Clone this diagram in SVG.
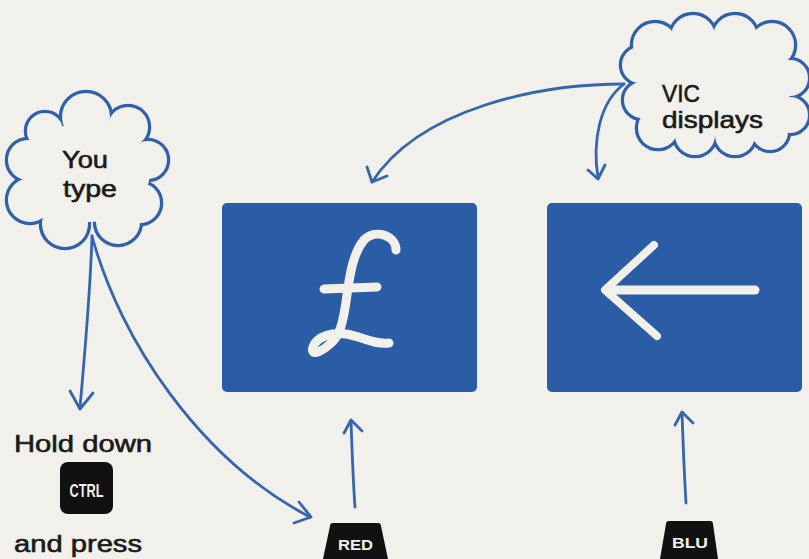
<svg xmlns="http://www.w3.org/2000/svg" width="809" height="559" viewBox="0 0 809 559">
<defs>
<style>
.bg{fill:#f2f0ea}
.cloudline{fill:none;stroke:#2f60a8;stroke-width:6.5}
.cloudfill{fill:#f2f0ea;stroke:none}
.conn{fill:none;stroke:#3465ad;stroke-width:2.8;stroke-linecap:round;stroke-linejoin:round}
.screen{fill:#2b5ca6}
.glyph{fill:none;stroke:#f2f0ea;stroke-linecap:round;stroke-linejoin:round}
.lbl{font-family:"Liberation Sans",Arial,sans-serif;font-size:24px;fill:#1a1a1a;stroke:#1a1a1a;stroke-width:0.6}
.key{fill:#111}
.keytxt{font-family:"Liberation Sans",Arial,sans-serif;font-weight:bold;fill:#f2f0ea}
</style>
</defs>
<rect class="bg" x="0" y="0" width="809" height="559"/>

<g id="you-type">
<g class="cloudline">
<circle cx="45" cy="131" r="18"/>
<circle cx="86" cy="117" r="24"/>
<circle cx="128" cy="127" r="20"/>
<circle cx="148" cy="160" r="19"/>
<circle cx="140" cy="203" r="20"/>
<circle cx="118" cy="222" r="22"/>
<circle cx="65" cy="224" r="23"/>
<circle cx="30" cy="200" r="22"/>
<circle cx="28" cy="160" r="20"/>
</g>
<g class="cloudfill">
<circle cx="45" cy="131" r="18"/>
<circle cx="86" cy="117" r="24"/>
<circle cx="128" cy="127" r="20"/>
<circle cx="148" cy="160" r="19"/>
<circle cx="140" cy="203" r="20"/>
<circle cx="118" cy="222" r="22"/>
<circle cx="65" cy="224" r="23"/>
<circle cx="30" cy="200" r="22"/>
<circle cx="28" cy="160" r="20"/>
<ellipse cx="88" cy="172" rx="62" ry="50"/>
</g>
<text class="lbl" x="62" y="168" textLength="46" lengthAdjust="spacingAndGlyphs">You</text>
<text class="lbl" x="63" y="197" textLength="54" lengthAdjust="spacingAndGlyphs">type</text>
</g>

<g id="vic-displays">
<g class="cloudline">
<circle cx="655" cy="45" r="22"/>
<circle cx="693" cy="37" r="22"/>
<circle cx="735" cy="37" r="22"/>
<circle cx="772" cy="45" r="22"/>
<circle cx="790" cy="78" r="18"/>
<circle cx="790" cy="115" r="18"/>
<circle cx="770" cy="132" r="18"/>
<circle cx="735" cy="135" r="20"/>
<circle cx="695" cy="135" r="20"/>
<circle cx="658" cy="128" r="20"/>
<circle cx="642" cy="100" r="18"/>
<circle cx="640" cy="65" r="18"/>
</g>
<g class="cloudfill">
<circle cx="655" cy="45" r="22"/>
<circle cx="693" cy="37" r="22"/>
<circle cx="735" cy="37" r="22"/>
<circle cx="772" cy="45" r="22"/>
<circle cx="790" cy="78" r="18"/>
<circle cx="790" cy="115" r="18"/>
<circle cx="770" cy="132" r="18"/>
<circle cx="735" cy="135" r="20"/>
<circle cx="695" cy="135" r="20"/>
<circle cx="658" cy="128" r="20"/>
<circle cx="642" cy="100" r="18"/>
<circle cx="640" cy="65" r="18"/>
<ellipse cx="715" cy="86" rx="76" ry="50"/>
</g>
<text class="lbl" x="662" y="102" textLength="38" lengthAdjust="spacingAndGlyphs">VIC</text>
<text class="lbl" x="662" y="128" textLength="101" lengthAdjust="spacingAndGlyphs">displays</text>
</g>

<g id="screen-pound">
<rect class="screen" x="222" y="203" width="255" height="189" rx="5"/>
<path class="glyph" stroke-width="9" d="M 396 250 C 396 236, 376 228, 364 240 C 352 254, 349 280, 346 302 C 343 322, 340 336, 330 344 C 320 353, 310 356, 313 347 C 317 336, 333 332, 346 334 C 360 336, 374 345, 389 343"/>
<path class="glyph" stroke-width="9" d="M 324 289 L 377 287"/>
</g>

<g id="screen-arrow">
<rect class="screen" x="547" y="203" width="255" height="189" rx="5"/>
<path class="glyph" stroke-width="9" stroke-linecap="butt" d="M 608 290 L 755 290"/>
<path class="glyph" stroke-width="8" stroke-linecap="butt" stroke-linejoin="miter" d="M 654 245 L 605 290 L 657 336"/>
</g>

<g id="hold-down">
<text class="lbl" x="14" y="452" font-size="25" textLength="138" lengthAdjust="spacingAndGlyphs">Hold down</text>
<rect class="key" x="60" y="462" width="53" height="52" rx="8"/>
<text class="keytxt" x="86.5" y="497" font-size="18" text-anchor="middle" textLength="34" lengthAdjust="spacingAndGlyphs">CTRL</text>
<text class="lbl" x="14" y="552" font-size="25" textLength="128" lengthAdjust="spacingAndGlyphs">and press</text>
</g>

<g id="key-red">
<path class="key" d="M 333 523 L 378 523 Q 381 523 381 526 L 388 559 L 323 559 L 330 526 Q 330 523 333 523 Z"/>
<text class="keytxt" x="355.5" y="550" font-size="15" text-anchor="middle" textLength="35" lengthAdjust="spacingAndGlyphs">RED</text>
</g>

<g id="key-blu">
<path class="key" d="M 669 521 L 710 521 Q 713 521 713 524 L 718 559 L 660 559 L 666 524 Q 666 521 669 521 Z"/>
<text class="keytxt" x="690" y="548" font-size="15" text-anchor="middle" textLength="36" lengthAdjust="spacingAndGlyphs">BLU</text>
</g>

<g id="connectors">
<path class="conn" d="M 92 236 C 90 300, 84 360, 80 408"/>
<path class="conn" d="M 70 391 L 80 409 L 93 393"/>
<path class="conn" d="M 92 236 C 120 340, 200 460, 310 517"/>
<path class="conn" d="M 299 502 L 311 517 L 294 523"/>
<path class="conn" d="M 624 84 C 540 84, 420 108, 372 182"/>
<path class="conn" d="M 367 167 L 372 182 L 387 176"/>
<path class="conn" d="M 624 84 C 600 102, 592 140, 598 178"/>
<path class="conn" d="M 588 170 L 598 179 L 605 165"/>
<path class="conn" d="M 355 507 C 353 480, 352 450, 351 421"/>
<path class="conn" d="M 344 433 L 351 420 L 362 431"/>
<path class="conn" d="M 686 503 C 684 470, 683 440, 682 413"/>
<path class="conn" d="M 675 425 L 682 412 L 693 423"/>
</g>
</svg>
